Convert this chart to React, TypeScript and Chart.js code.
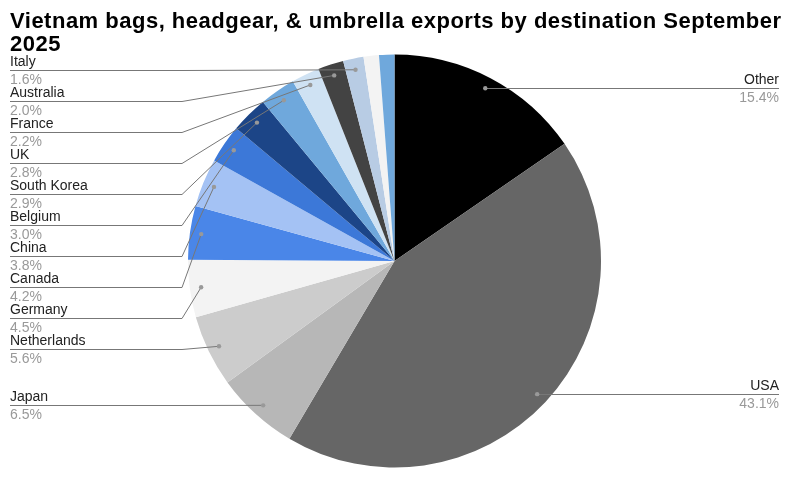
import React, { useEffect, useRef } from "react";
import { Chart, registerables } from "chart.js";

Chart.register(...registerables);

const TITLE_LINES = [
  "Vietnam bags, headgear, & umbrella exports by destination September",
  "2025",
];

const categories = [
  "Other",
  "USA",
  "Japan",
  "Netherlands",
  "Germany",
  "Canada",
  "China",
  "Belgium",
  "South Korea",
  "UK",
  "France",
  "Australia",
  "Italy",
  "",
  "",
];

const shares = [15.4, 43.1, 6.5, 5.6, 4.5, 4.2, 3.8, 3.0, 2.9, 2.8, 2.2, 2.0, 1.6, 1.2, 1.2];

const sliceColors = [
  "#000000",
  "#666666",
  "#b7b7b7",
  "#cccccc",
  "#f3f3f3",
  "#4a86e8",
  "#a4c2f4",
  "#3c78d8",
  "#1c4587",
  "#6fa8dc",
  "#cfe2f3",
  "#434343",
  "#b8cce4",
  "#f3f3f3",
  "#6fa8dc",
];

const FONT = '"Liberation Sans", Arial, sans-serif';

const titlePlugin = {
  id: "customTitle",
  afterDraw(chart: any) {
    const ctx = chart.ctx;
    ctx.save();
    ctx.fillStyle = "#000000";
    ctx.font = `bold 22px ${FONT}`;
    ctx.textAlign = "left";
    ctx.textBaseline = "alphabetic";
    const target = 771;
    const w = ctx.measureText(TITLE_LINES[0]).width;
    const n = TITLE_LINES[0].length;
    const ls = Math.max(0, (target - w) / (n - 1));
    (ctx as any).letterSpacing = ls.toFixed(2) + "px";
    ctx.fillText(TITLE_LINES[0], 10, 28);
    ctx.fillText(TITLE_LINES[1], 10, 51);
    ctx.restore();
  },
};

const labelPlugin = {
  id: "calloutLabels",
  afterDraw(chart: any) {
    const ctx = chart.ctx;
    const meta = chart.getDatasetMeta(0);
    const items: any[] = [];
    meta.data.forEach((arc: any, i: number) => {
      if (!categories[i]) return;
      const p = arc.getProps(["x", "y", "startAngle", "endAngle", "outerRadius"], true);
      const mid = (p.startAngle + p.endAngle) / 2;
      const r = p.outerRadius * 0.945;
      items.push({
        i,
        dx: p.x + Math.cos(mid) * r,
        dy: p.y + Math.sin(mid) * r,
        right: Math.cos(mid) > 0,
      });
    });
    const spacing = 31;
    const place = (list: any[]) => {
      list.sort((a, b) => a.dy - b.dy);
      let prev = -Infinity;
      list.forEach((it) => {
        it.ly = Math.max(it.dy, prev + spacing);
        prev = it.ly;
      });
    };
    const left = items.filter((d) => !d.right);
    const right = items.filter((d) => d.right);
    place(left);
    place(right);

    ctx.save();
    ctx.lineWidth = 1;
    ctx.strokeStyle = "#777777";
    const leftX = 10;
    const elbowX = 182;
    const rightX = 779;
    items.forEach((it) => {
      const ly = Math.round(it.ly) + 0.5;
      ctx.beginPath();
      if (it.right) {
        ctx.moveTo(it.dx, ly);
        ctx.lineTo(rightX, ly);
      } else {
        ctx.moveTo(leftX, ly);
        ctx.lineTo(elbowX, ly);
        ctx.lineTo(it.dx, it.dy);
      }
      ctx.stroke();
      ctx.fillStyle = "#999999";
      ctx.beginPath();
      ctx.arc(it.dx, it.dy, 2.2, 0, Math.PI * 2);
      ctx.fill();

      ctx.font = `14px ${FONT}`;
      ctx.textBaseline = "alphabetic";
      ctx.textAlign = it.right ? "right" : "left";
      const tx = it.right ? rightX : leftX;
      ctx.fillStyle = "#222222";
      ctx.fillText(categories[it.i], tx, ly - 4.5);
      ctx.fillStyle = "#999999";
      ctx.fillText(shares[it.i].toFixed(1) + "%", tx, ly + 13.5);
    });
    ctx.restore();
  },
};

export default function App() {
  const ref = useRef<HTMLCanvasElement | null>(null);
  useEffect(() => {
    if (!ref.current) return;
    const chart = new Chart(ref.current, {
      type: "pie",
      data: {
        labels: categories,
        datasets: [
          {
            data: shares,
            backgroundColor: sliceColors,
            borderWidth: 0,
          },
        ],
      },
      options: {
        animation: false,
        responsive: false,
        maintainAspectRatio: false,
        layout: {
          padding: { top: 54.5, bottom: 10.5, left: 188, right: 193 },
        },
        plugins: {
          legend: { display: false },
          title: { display: false },
          tooltip: { enabled: false },
        },
      },
      plugins: [titlePlugin, labelPlugin],
    });
    return () => chart.destroy();
  }, []);
  return (
    <div style={{ position: "fixed", left: 0, top: 0, width: 794, height: 478, background: "#ffffff" }}>
      <canvas ref={ref} width={794} height={478} style={{ display: "block", width: 794, height: 478 }} />
    </div>
  );
}
